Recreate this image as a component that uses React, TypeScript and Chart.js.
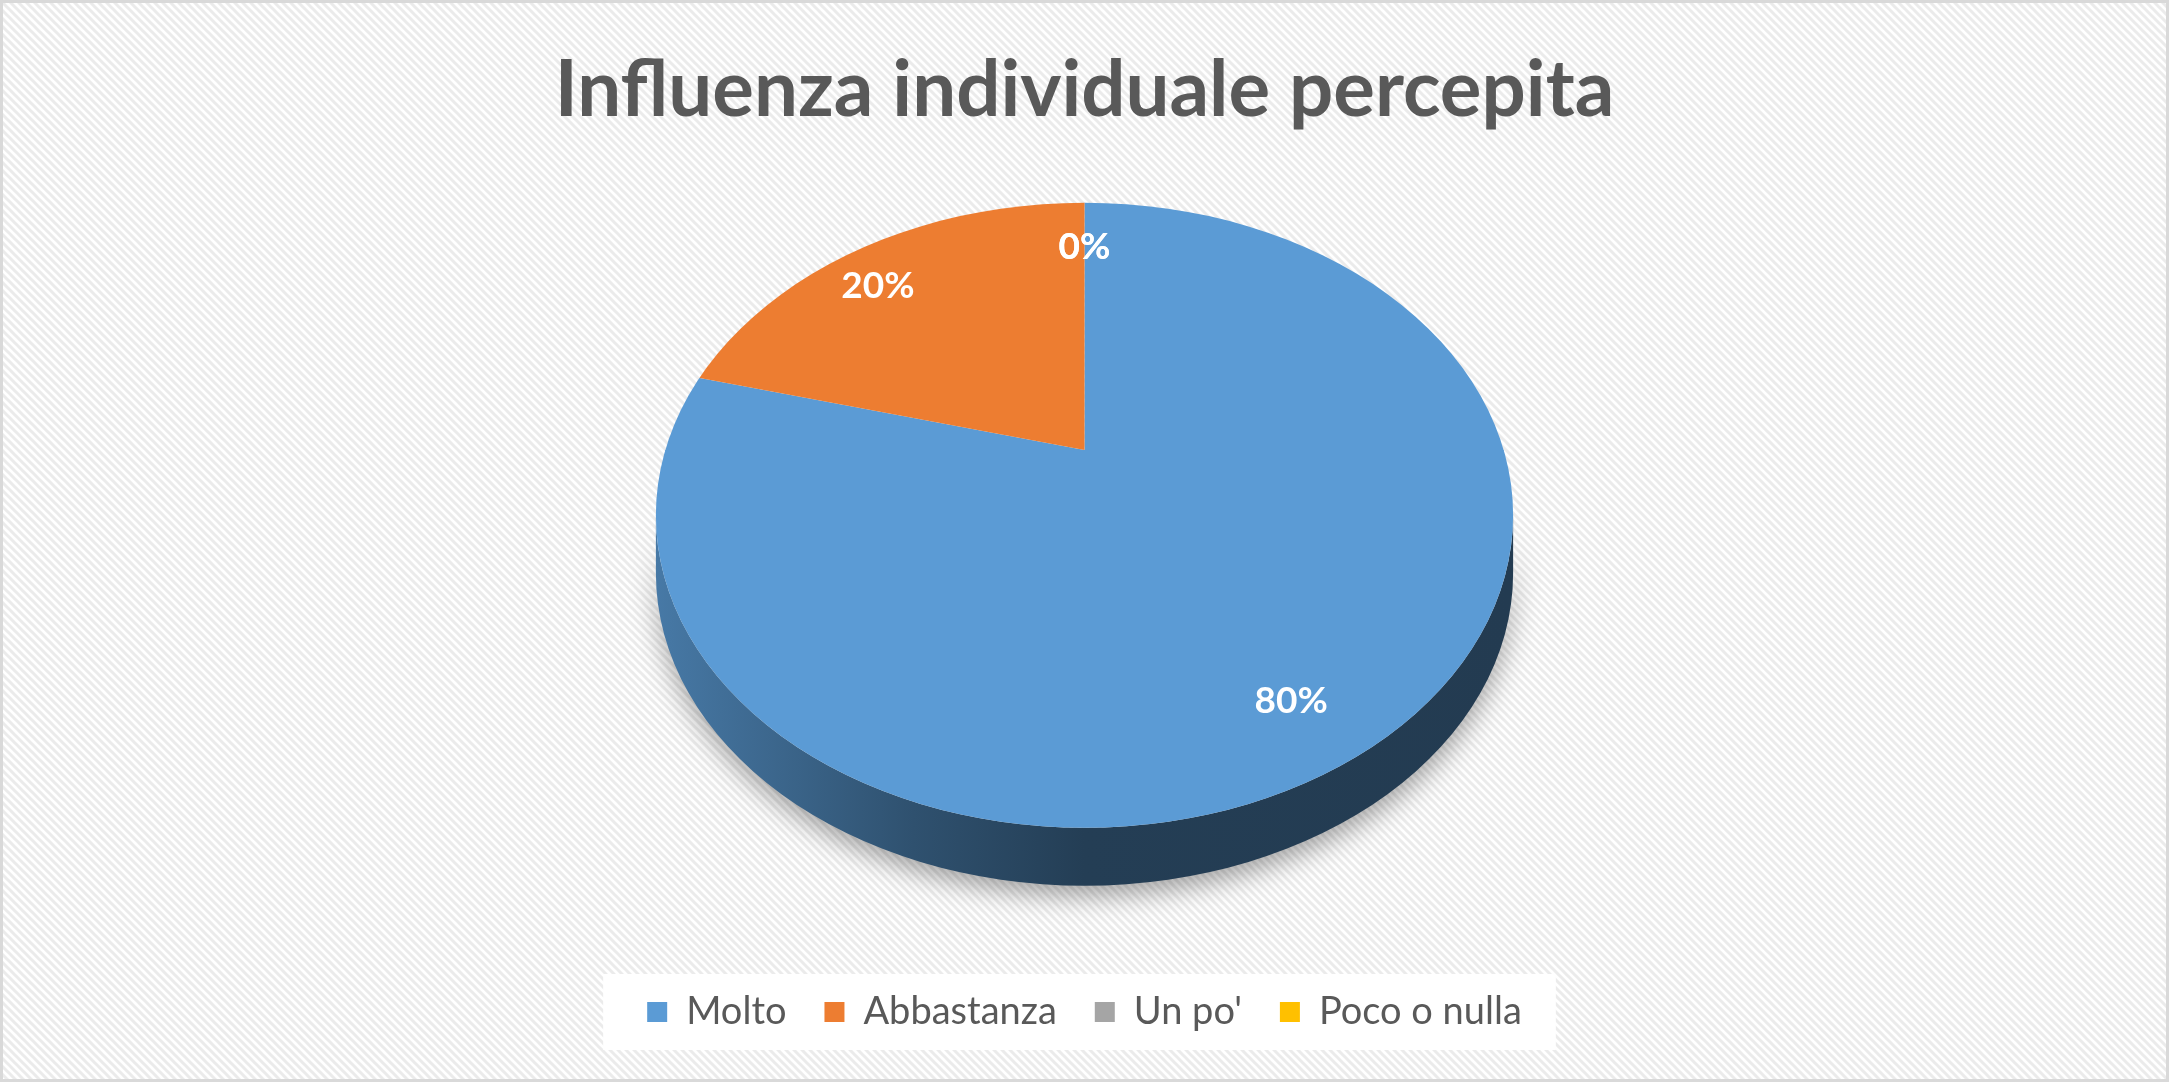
import { useEffect, useRef } from "react";
import { Chart, registerables } from "chart.js";

Chart.register(...registerables);

const categories = ["Molto", "Abbastanza", "Un po'", "Poco o nulla"];
const shares = [80, 20, 0, 0];
const sliceColors = ["#5B9BD5", "#ED7D31", "#A5A5A5", "#FFC000"];
const chartTitle = "Influenza individuale percepita";

// tilt of the 3D pie, as factors of the radius chart.js gives the pie
const STRETCH_X = 1.403; // half width of the top face
const SQUASH = 1.023; // half height of the top face
const CENTER_DROP = 0.213; // top face centre sits below the apex (perspective)
const DIR_TOP = 0.81; // vertical squash of slice directions behind the apex
const DIR_BOTTOM = 1.236; // ...and in front of it
const GROW = 1.3; // slices drawn larger, then clipped to the top face
const DEPTH = 0.19;
const LABEL_POS = 0.82;

function shade(hex: string, k: number) {
  const n = parseInt(hex.slice(1), 16);
  const r = Math.round(((n >> 16) & 255) * k);
  const g = Math.round(((n >> 8) & 255) * k);
  const b = Math.round((n & 255) * k);
  return `rgb(${r},${g},${b})`;
}

const tiltedPie = {
  id: "tiltedPie",
  beforeDraw(chart: any) {
    const { ctx, width, height } = chart;
    ctx.save();
    // hatched background
    const tile = document.createElement("canvas");
    tile.width = 8;
    tile.height = 8;
    const t = tile.getContext("2d")!;
    t.fillStyle = "#ffffff";
    t.fillRect(0, 0, 8, 8);
    t.strokeStyle = "#ebebeb";
    t.lineWidth = 3;
    t.beginPath();
    t.moveTo(-2, -2);
    t.lineTo(10, 10);
    t.moveTo(-2, 6);
    t.lineTo(2, 10);
    t.moveTo(6, -2);
    t.lineTo(10, 2);
    t.stroke();
    ctx.fillStyle = ctx.createPattern(tile, "repeat");
    ctx.fillRect(0, 0, width, height);

    // white panel behind the legend
    const boxes = chart.legend?.legendHitBoxes;
    if (boxes && boxes.length) {
      const first = boxes[0];
      const last = boxes[boxes.length - 1];
      const mid = first.top + first.height / 2;
      ctx.fillStyle = "#ffffff";
      ctx.fillRect(first.left - 44, mid - 38, last.left + last.width - first.left + 78, 76);
    }
    ctx.strokeStyle = "#d9d9d9";
    ctx.lineWidth = 3;
    ctx.strokeRect(1.5, 1.5, width - 3, height - 3);
    ctx.restore();
  },
  beforeDatasetsDraw(chart: any) {
    const arcs = chart.getDatasetMeta(0).data as any[];
    if (!arcs.length) return;
    const { ctx, width, height } = chart;
    const { x: cx, y: cy, outerRadius: R } = arcs[0].getProps(["x", "y", "outerRadius"], true);
    const rx = R * STRETCH_X;
    const ry = R * SQUASH;
    const ey = cy + R * CENTER_DROP;
    const d = R * DEPTH;

    // side wall (front half only)
    ctx.save();
    ctx.shadowColor = "rgba(0,0,0,0.35)";
    ctx.shadowBlur = 26;
    ctx.shadowOffsetY = 10;
    arcs.forEach((arc, i) => {
      const { startAngle, endAngle } = arc.getProps(["startAngle", "endAngle"], true);
      const color = sliceColors[i];
      for (let k = -1; k <= 1; k++) {
        const a = Math.max(startAngle + 2 * Math.PI * k, 0);
        const b = Math.min(endAngle + 2 * Math.PI * k, Math.PI);
        if (b <= a) continue;
        const grad = ctx.createLinearGradient(cx - rx, 0, cx + rx, 0);
        grad.addColorStop(0, shade(color, 0.78));
        grad.addColorStop(0.3, shade(color, 0.52));
        grad.addColorStop(0.5, shade(color, 0.4));
        grad.addColorStop(1, shade(color, 0.38));
        ctx.fillStyle = grad;
        ctx.beginPath();
        ctx.ellipse(cx, ey, rx, ry, 0, a, b, false);
        ctx.ellipse(cx, ey + d, rx, ry, 0, b, a, true);
        ctx.closePath();
        ctx.fill();
      }
    });
    ctx.restore();

    // top face: slices fan out from the apex, clipped to the ellipse
    ctx.save();
    ctx.beginPath();
    ctx.ellipse(cx, ey, rx, ry, 0, 0, 2 * Math.PI);
    ctx.clip();
    const halves: [number, number, number][] = [
      [0, cy + 1, DIR_TOP],
      [cy, height, DIR_BOTTOM],
    ];
    halves.forEach(([y0, y1, k]) => {
      ctx.save();
      ctx.beginPath();
      ctx.rect(0, y0, width, y1 - y0);
      ctx.clip();
      ctx.translate(cx, cy);
      ctx.scale(STRETCH_X * GROW, k * GROW);
      ctx.translate(-cx, -cy);
      arcs.forEach((arc) => arc.draw(ctx));
      ctx.restore();
    });
    ctx.restore();
    return false;
  },
  afterDraw(chart: any) {
    const arcs = chart.getDatasetMeta(0).data as any[];
    if (!arcs.length) return;
    const { ctx } = chart;
    const { x: cx, y: cy, outerRadius: R } = arcs[0].getProps(["x", "y", "outerRadius"], true);
    const total = shares.reduce((s, v) => s + v, 0);
    ctx.save();
    ctx.fillStyle = "#ffffff";
    ctx.font = "bold 37px Lato";
    ctx.textAlign = "center";
    ctx.textBaseline = "middle";
    arcs.forEach((arc, i) => {
      const { startAngle, endAngle } = arc.getProps(["startAngle", "endAngle"], true);
      const mid = (startAngle + endAngle) / 2;
      const s = Math.sin(mid);
      const x = cx + Math.cos(mid) * R * STRETCH_X * LABEL_POS;
      const y = cy + s * R * (s < 0 ? DIR_TOP : DIR_BOTTOM) * LABEL_POS;
      ctx.fillText(Math.round((shares[i] / total) * 100) + "%", x, y);
    });
    ctx.restore();
  },
};

const PieChart = () => {
  const canvasRef = useRef<HTMLCanvasElement>(null);

  useEffect(() => {
    if (!canvasRef.current) return;
    const chart = new Chart(canvasRef.current, {
      type: "pie",
      data: {
        labels: categories,
        datasets: [
          {
            data: shares,
            backgroundColor: sliceColors,
            borderWidth: 0,
          },
        ],
      },
      options: {
        animation: false,
        responsive: true,
        maintainAspectRatio: false,
        events: [],
        layout: { padding: { top: 0, bottom: 41, left: 0, right: 0 } },
        plugins: {
          title: {
            display: true,
            text: chartTitle,
            color: "#595959",
            font: { family: "Lato", size: 78, weight: "bold" },
            padding: { top: 44, bottom: 7 },
          },
          legend: {
            position: "bottom",
            labels: {
              color: "#595959",
              font: { family: "Lato", size: 38 },
              boxWidth: 20,
              boxHeight: 20,
              padding: 38,
            },
            // empty legend title used as a spacer so the pie sits high
            title: { display: true, text: "", padding: { top: 0, bottom: 185 } },
          },
          tooltip: { enabled: false },
        },
      },
      plugins: [tiltedPie],
    });
    return () => chart.destroy();
  }, []);

  return (
    <div style={{ position: "absolute", left: 0, top: 0, width: "2169px", height: "1082px" }}>
      <canvas ref={canvasRef}></canvas>
    </div>
  );
};

export default function App() {
  return <PieChart />;
}
